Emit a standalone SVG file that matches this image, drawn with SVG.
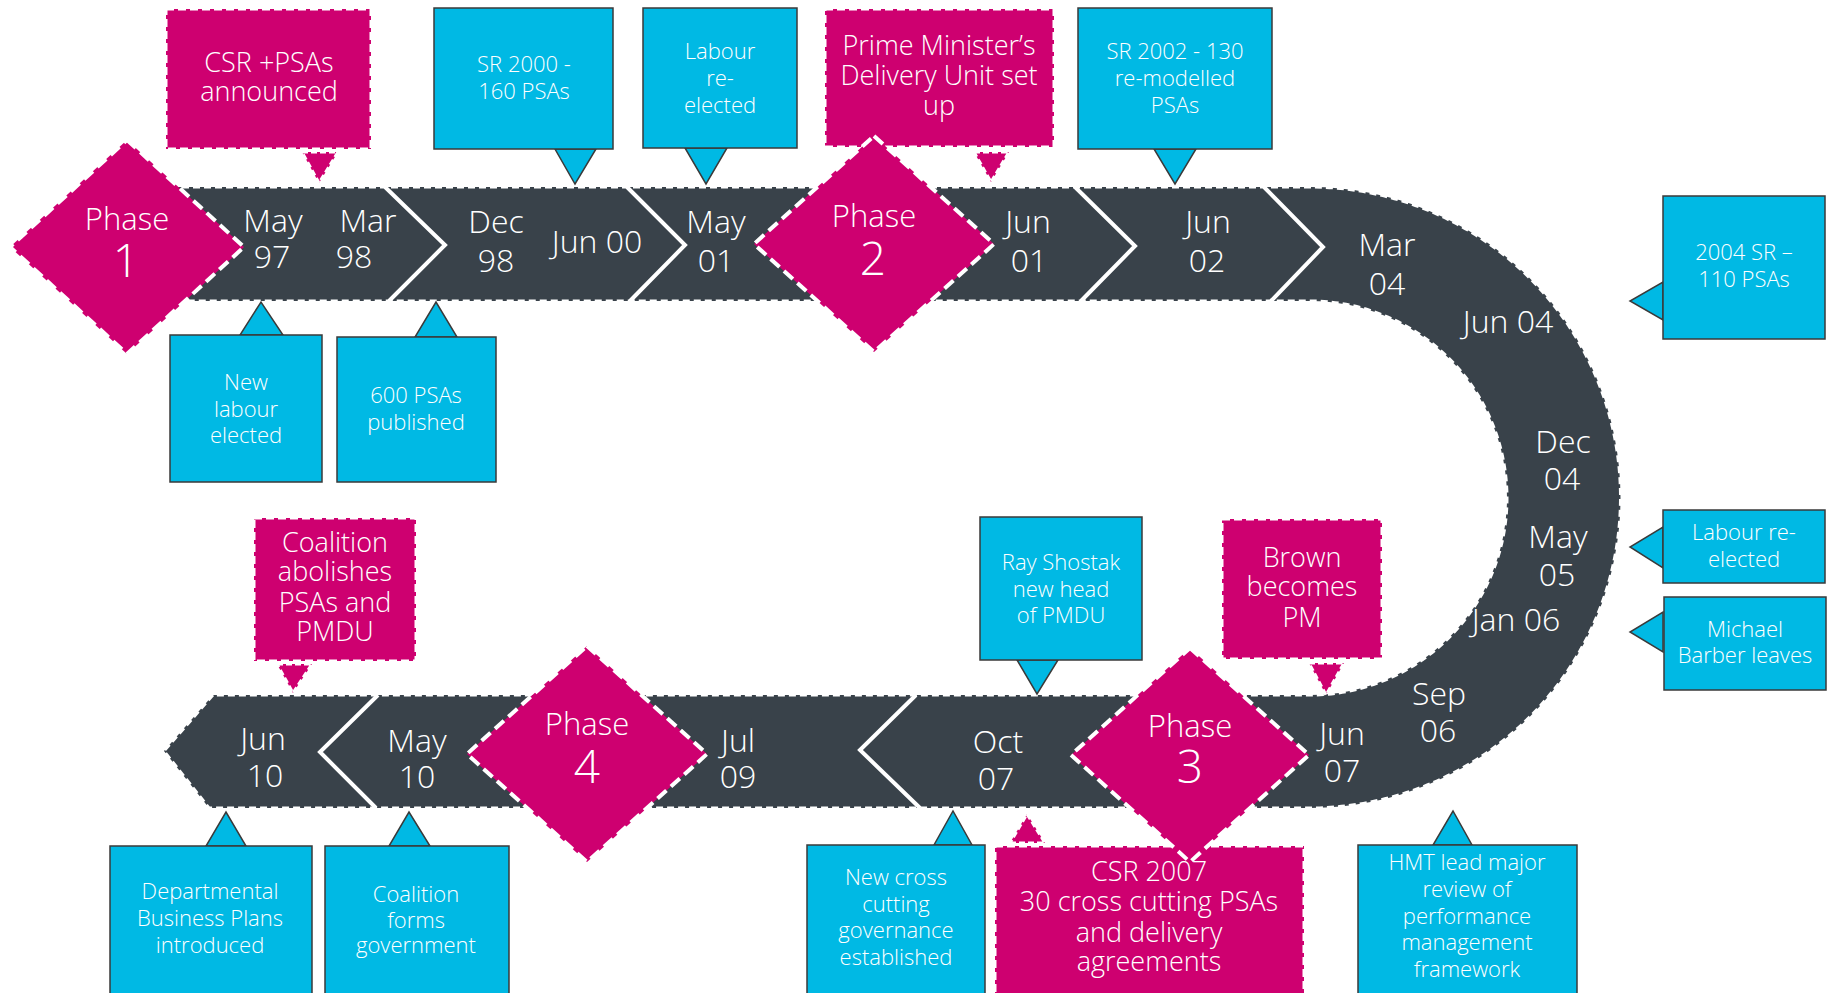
<svg xmlns="http://www.w3.org/2000/svg" width="1831" height="993" viewBox="0 0 1831 993">
  <style>
    text { font-family: "Open Sans", "Segoe UI", "Liberation Sans", sans-serif; fill: #ffffff; text-anchor: middle; font-weight: 300; }
    .band { fill: #39424A; stroke: #ffffff; stroke-width: 3; stroke-dasharray: 7 4; }
    .chev { fill: none; stroke: #ffffff; stroke-width: 4; stroke-linejoin: miter; }
    .date { font-size: 32px; }
    .diamond { fill: #CE0070; stroke: #ffffff; stroke-width: 4; stroke-dasharray: 12 6; }
    .ph { font-size: 31px; }
    .phn { font-size: 46px; }
    .cbox { fill: #00B9E4; stroke: #3A3A3A; stroke-width: 1.5; }
    .cptr { fill: #00B9E4; stroke: #3A3A3A; stroke-width: 1.5; stroke-linejoin: miter; }
    .mbox { fill: #CE0070; stroke: #ffffff; stroke-width: 3; stroke-dasharray: 8 4; }
    .mptr { fill: #CE0070; stroke: #ffffff; stroke-width: 3; stroke-dasharray: 6 3; }
    .ct { font-size: 22px; }
    .mt { font-size: 27px; }
  </style>

  <!-- Timeline road: top run, U-turn, bottom run -->
  <g id="timeline">
    <path class="band" d="M 160 187 L 1310 187 A 310.5 310.5 0 0 1 1310 808 L 209 808 L 164 751 L 213 695 L 1310 695 A 197 197 0 0 0 1310 301 L 160 301 Z"/>
    <polyline class="chev" points="385,187 445,245 389,301"/>
    <polyline class="chev" points="627,187 685,245 630,301"/>
    <polyline class="chev" points="1075,187 1135,246 1081,301"/>
    <polyline class="chev" points="1264,187 1323,247 1271,301"/>
    <polyline class="chev" points="378,695 320,752 376,808"/>
    <polyline class="chev" points="916,695 860,750 920,808"/>

    <g class="date">
      <text><tspan x="273" y="232">May</tspan><tspan x="272" y="268">97</tspan></text>
      <text><tspan x="368" y="232">Mar</tspan><tspan x="354" y="268">98</tspan></text>
      <text><tspan x="496" y="233">Dec</tspan><tspan x="496" y="272">98</tspan></text>
      <text x="597" y="253">Jun 00</text>
      <text><tspan x="716" y="233">May</tspan><tspan x="716" y="272">01</tspan></text>
      <text><tspan x="1028" y="233">Jun</tspan><tspan x="1029" y="272">01</tspan></text>
      <text><tspan x="1208" y="233">Jun</tspan><tspan x="1207" y="272">02</tspan></text>
      <text><tspan x="1387" y="256">Mar</tspan><tspan x="1387" y="295">04</tspan></text>
      <text x="1508" y="333">Jun 04</text>
      <text><tspan x="1563" y="453">Dec</tspan><tspan x="1562" y="490">04</tspan></text>
      <text><tspan x="1558" y="548">May</tspan><tspan x="1557" y="586">05</tspan></text>
      <text x="1516" y="631">Jan 06</text>
      <text><tspan x="1439" y="705">Sep</tspan><tspan x="1438" y="742">06</tspan></text>
      <text><tspan x="1342" y="745">Jun</tspan><tspan x="1342" y="782">07</tspan></text>
      <text><tspan x="998" y="753">Oct</tspan><tspan x="996" y="790">07</tspan></text>
      <text><tspan x="738" y="752">Jul</tspan><tspan x="738" y="788">09</tspan></text>
      <text><tspan x="417" y="752">May</tspan><tspan x="417" y="788">10</tspan></text>
      <text><tspan x="263" y="750">Jun</tspan><tspan x="265" y="787">10</tspan></text>
    </g>
  </g>

  <!-- Callout pointers -->
  <g id="connectors">
    <polygon class="mptr" points="302,152 338,152 319,183"/>
    <polygon class="cptr" points="555,149 596,149 575,184"/>
    <polygon class="cptr" points="685,148 727,148 706,184"/>
    <polygon class="mptr" points="974,152 1009,152 991,182"/>
    <polygon class="cptr" points="1154,149 1196,149 1175,184"/>
    <polygon class="cptr" points="240,335 283,335 261,302"/>
    <polygon class="cptr" points="415,337 457,337 436,302"/>
    <polygon class="cptr" points="1663,282 1663,320 1630,301"/>
    <polygon class="cptr" points="1663,527 1663,568 1630,547"/>
    <polygon class="cptr" points="1663,612 1663,652 1630,632"/>
    <polygon class="mptr" points="277,664 312,664 293,693"/>
    <polygon class="cptr" points="1017,660 1058,660 1037,694"/>
    <polygon class="mptr" points="1309,663 1344,663 1326,695"/>
    <polygon class="cptr" points="206,846 246,846 226,812"/>
    <polygon class="cptr" points="389,846 430,846 409,812"/>
    <polygon class="cptr" points="934,845 972,845 953,811"/>
    <polygon class="mptr" points="1010,843 1045,843 1027,814"/>
    <polygon class="cptr" points="1433,845 1472,845 1453,811"/>
  </g>

  <!-- Event callouts -->
  <g id="csr-psas">
    <rect class="mbox" x="166" y="9" width="205" height="140"/>
    <text class="mt"><tspan x="269" y="72">CSR +PSAs</tspan><tspan x="269" y="101">announced</tspan></text>
  </g>
  <g id="sr2000">
    <rect class="cbox" x="434" y="8" width="179" height="141"/>
    <text class="ct"><tspan x="524" y="72">SR 2000 -</tspan><tspan x="524" y="99">160 PSAs</tspan></text>
  </g>
  <g id="labour-reelected-01">
    <rect class="cbox" x="643" y="8" width="154" height="140"/>
    <text class="ct"><tspan x="720" y="59">Labour</tspan><tspan x="720" y="86">re-</tspan><tspan x="720" y="113">elected</tspan></text>
  </g>
  <g id="pmdu-setup">
    <rect class="mbox" x="825" y="9" width="229" height="138"/>
    <text class="mt"><tspan x="939" y="55">Prime Minister’s</tspan><tspan x="939" y="85">Delivery Unit set</tspan><tspan x="939" y="115">up</tspan></text>
  </g>
  <g id="sr2002">
    <rect class="cbox" x="1078" y="8" width="194" height="141"/>
    <text class="ct"><tspan x="1175" y="59">SR 2002 - 130</tspan><tspan x="1175" y="86">re-modelled</tspan><tspan x="1175" y="113">PSAs</tspan></text>
  </g>
  <g id="new-labour">
    <rect class="cbox" x="170" y="335" width="152" height="147"/>
    <text class="ct"><tspan x="246" y="390">New</tspan><tspan x="246" y="417">labour</tspan><tspan x="246" y="443">elected</tspan></text>
  </g>
  <g id="psas-published">
    <rect class="cbox" x="337" y="337" width="159" height="145"/>
    <text class="ct"><tspan x="416" y="403">600 PSAs</tspan><tspan x="416" y="430">published</tspan></text>
  </g>
  <g id="sr2004">
    <rect class="cbox" x="1663" y="196" width="162" height="143"/>
    <text class="ct"><tspan x="1744" y="260">2004 SR –</tspan><tspan x="1744" y="287">110 PSAs</tspan></text>
  </g>
  <g id="labour-reelected-05">
    <rect class="cbox" x="1663" y="510" width="162" height="73"/>
    <text class="ct"><tspan x="1744" y="540">Labour re-</tspan><tspan x="1744" y="567">elected</tspan></text>
  </g>
  <g id="barber-leaves">
    <rect class="cbox" x="1664" y="597" width="162" height="93"/>
    <text class="ct"><tspan x="1745" y="637">Michael</tspan><tspan x="1745" y="663">Barber leaves</tspan></text>
  </g>
  <g id="coalition-abolishes">
    <rect class="mbox" x="254" y="518" width="162" height="143"/>
    <text class="mt"><tspan x="335" y="552">Coalition</tspan><tspan x="335" y="581">abolishes</tspan><tspan x="335" y="612">PSAs and</tspan><tspan x="335" y="641">PMDU</tspan></text>
  </g>
  <g id="shostak">
    <rect class="cbox" x="980" y="517" width="162" height="143"/>
    <text class="ct"><tspan x="1061" y="570">Ray Shostak</tspan><tspan x="1061" y="597">new head</tspan><tspan x="1061" y="623">of PMDU</tspan></text>
  </g>
  <g id="brown-pm">
    <rect class="mbox" x="1222" y="519" width="160" height="140"/>
    <text class="mt"><tspan x="1302" y="567">Brown</tspan><tspan x="1302" y="596">becomes</tspan><tspan x="1302" y="627">PM</tspan></text>
  </g>
  <g id="business-plans">
    <rect class="cbox" x="110" y="846" width="202" height="160"/>
    <text class="ct"><tspan x="210" y="899">Departmental</tspan><tspan x="210" y="926">Business Plans</tspan><tspan x="210" y="953">introduced</tspan></text>
  </g>
  <g id="coalition-forms">
    <rect class="cbox" x="325" y="846" width="184" height="160"/>
    <text class="ct"><tspan x="416" y="902">Coalition</tspan><tspan x="416" y="928">forms</tspan><tspan x="416" y="953">government</tspan></text>
  </g>
  <g id="cross-cutting">
    <rect class="cbox" x="807" y="845" width="178" height="160"/>
    <text class="ct"><tspan x="896" y="885">New cross</tspan><tspan x="896" y="912">cutting</tspan><tspan x="896" y="938">governance</tspan><tspan x="896" y="965">established</tspan></text>
  </g>
  <g id="csr2007">
    <rect class="mbox" x="995" y="846" width="309" height="160"/>
    <text class="mt"><tspan x="1149" y="881">CSR 2007</tspan><tspan x="1149" y="911">30 cross cutting PSAs</tspan><tspan x="1149" y="942">and delivery</tspan><tspan x="1149" y="971">agreements</tspan></text>
  </g>
  <g id="hmt-review">
    <rect class="cbox" x="1358" y="845" width="219" height="160"/>
    <text class="ct"><tspan x="1467" y="870">HMT lead major</tspan><tspan x="1467" y="897">review of</tspan><tspan x="1467" y="924">performance</tspan><tspan x="1467" y="950">management</tspan><tspan x="1467" y="977">framework</tspan></text>
  </g>

  <!-- Phase markers -->
  <g id="phase1">
    <polygon class="diamond" points="127,140 244,247 127,354 10,247"/>
    <text><tspan class="ph" x="127" y="230">Phase</tspan><tspan class="phn" x="126" y="277">1</tspan></text>
  </g>
  <g id="phase2">
    <polygon class="diamond" points="874,136 994,244 874,352 754,244"/>
    <text><tspan class="ph" x="874" y="227">Phase</tspan><tspan class="phn" x="873" y="275">2</tspan></text>
  </g>
  <g id="phase3">
    <polygon class="diamond" points="1190,648 1309,755 1190,862 1071,755"/>
    <text><tspan class="ph" x="1190" y="737">Phase</tspan><tspan class="phn" x="1190" y="783">3</tspan></text>
  </g>
  <g id="phase4">
    <polygon class="diamond" points="587,646 707,754 587,862 467,754"/>
    <text><tspan class="ph" x="587" y="735">Phase</tspan><tspan class="phn" x="587" y="783">4</tspan></text>
  </g>
</svg>
